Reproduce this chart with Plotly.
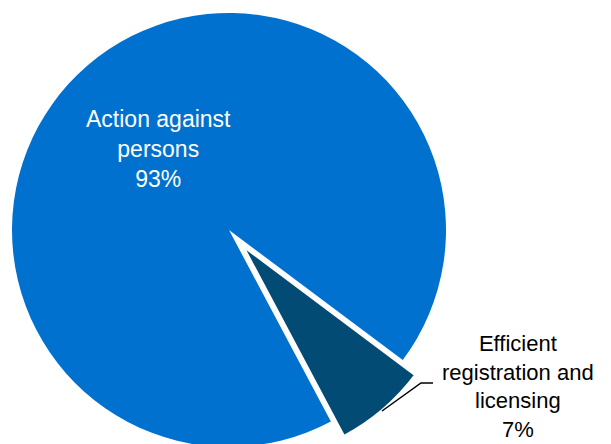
import plotly.graph_objects as go

# ---- data ----
labels = ["Action against persons", "Efficient registration and licensing"]
label_lines = [["Action against", "persons"], ["Efficient", "registration and", "licensing"]]
values = [93, 7]
colors = ["#0071CE", "#024B75"]

W, H = 603, 460
PAGE_OFF = 8  # default page margin of the html body

def px_x(x):
    return (x - PAGE_OFF) / W

def px_y(y):
    return (H - (y - PAGE_OFF)) / H

CX, CY, R = 229, 230, 217
OFF_X, OFF_Y = 13, 15
ROT = 152

total = sum(values)
pct = [round(v / total * 100) for v in values]

fig = go.Figure()

# main slice (small slice left empty as a notch)
fig.add_trace(go.Pie(
    labels=labels, values=values, sort=False, direction="clockwise", rotation=ROT,
    marker=dict(colors=[colors[0], "rgba(0,0,0,0)"], line=dict(color="white", width=[0, 0])),
    textinfo="none", hoverinfo="label+percent", showlegend=False,
    domain=dict(x=[px_x(CX - R), px_x(CX + R)], y=[px_y(CY + R), px_y(CY - R)]),
))
# exploded small slice
fig.add_trace(go.Pie(
    labels=labels, values=values, sort=False, direction="clockwise", rotation=ROT,
    marker=dict(colors=["rgba(0,0,0,0)", colors[1]], line=dict(color="white", width=[0, 3])),
    textinfo="none", hoverinfo="label+percent", showlegend=False,
    domain=dict(x=[px_x(CX + OFF_X - R), px_x(CX + OFF_X + R)],
                y=[px_y(CY + OFF_Y + R), px_y(CY + OFF_Y - R)]),
))

font_family = "Liberation Sans, Arial, sans-serif"
fig.add_annotation(
    x=px_x(158), y=px_y(149), xref="paper", yref="paper", showarrow=False,
    xanchor="center", yanchor="middle",
    text="<br>".join(label_lines[0] + [f"{pct[0]}%"]),
    font=dict(family=font_family, size=23, color="white"), align="center",
)
fig.add_annotation(
    x=px_x(518), y=px_y(386), xref="paper", yref="paper", showarrow=False,
    xanchor="center", yanchor="middle",
    text="<br>".join(label_lines[1] + [f"{pct[1]}%"]),
    font=dict(family=font_family, size=22, color="black"), align="center",
)
fig.add_shape(
    type="path", xref="paper", yref="paper",
    path=f"M {px_x(382)} {px_y(411)} L {px_x(421)} {px_y(383)} L {px_x(433)} {px_y(383)}",
    line=dict(color="black", width=1.5),
)

fig.update_layout(
    width=W, height=H, margin=dict(l=0, r=0, t=0, b=0),
    paper_bgcolor="white", plot_bgcolor="white",
)
fig.write_html("out.html")
